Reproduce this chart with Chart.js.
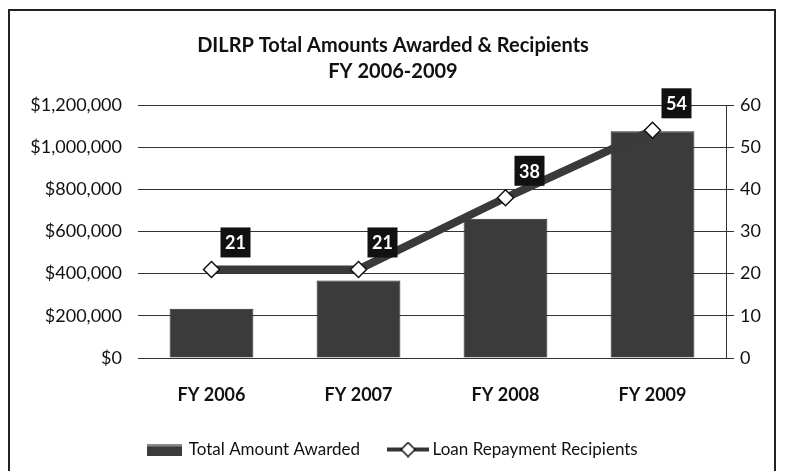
<!DOCTYPE html>
<html>
<head>
<meta charset="utf-8">
<script src="https://cdn.jsdelivr.net/npm/chart.js@4/dist/chart.umd.min.js"></script>
<style>
  html, body { margin: 0; padding: 0; background: #fff; }
  #wrap { position: relative; width: 786px; height: 471px; }
  #frame { position: absolute; left: 8px; top: 9px; width: 768px; height: 470px;
           border: 2px solid #222; border-bottom: none; box-sizing: border-box; }
  canvas { position: absolute; left: 0; top: 0; }
</style>
</head>
<body>
<div id="wrap">
  <div id="frame"></div>
  <canvas id="myChart" width="786" height="471"></canvas>
</div>
<script>
var years = ['FY 2006', 'FY 2007', 'FY 2008', 'FY 2009'];
var amountAwarded = [234000, 368000, 660000, 1076000];
var recipients = [21, 21, 38, 54];
var titleLines = ['DILRP Total Amounts Awarded & Recipients', 'FY 2006-2009'];

var fontName = 'Lato, "Open Sans", sans-serif';

// legend swatches
function barSwatch() {
    var c = document.createElement('canvas');
    c.width = 35; c.height = 12;
    var g = c.getContext('2d');
    g.fillStyle = '#3b3b3b';
    g.fillRect(0, 0, 35, 12);
    g.fillStyle = '#8a8a8a';
    g.fillRect(0, 0, 35, 3);
    return c;
}
function lineSwatch() {
    var c = document.createElement('canvas');
    c.width = 42; c.height = 16;
    var g = c.getContext('2d');
    g.fillStyle = '#333';
    g.fillRect(0, 6, 42, 4);
    g.beginPath();
    g.moveTo(21, 1); g.lineTo(28, 8); g.lineTo(21, 15); g.lineTo(14, 8); g.closePath();
    g.fillStyle = '#fff'; g.fill();
    g.lineWidth = 1.5; g.strokeStyle = '#111'; g.stroke();
    return c;
}

// black boxes with the recipient counts
var boxLabels = {
    id: 'boxLabels',
    afterDatasetsDraw: function (chart) {
        var meta = chart.getDatasetMeta(0);
        var ctx = chart.ctx;
        ctx.save();
        ctx.font = 'bold 18px ' + fontName;
        ctx.textAlign = 'center';
        ctx.textBaseline = 'middle';
        meta.data.forEach(function (pt, i) {
            var x = pt.x + 24, y = pt.y - 27;
            ctx.fillStyle = '#111';
            ctx.fillRect(x - 15, y - 15, 30, 30);
            ctx.fillStyle = '#fff';
            ctx.fillText(String(recipients[i]), x, y + 1);
        });
        ctx.restore();
    }
};

var ctx = document.getElementById('myChart').getContext('2d');

new Chart(ctx, {
    data: {
        labels: years,
        datasets: [{
            type: 'line',
            label: 'Loan Repayment Recipients',
            data: recipients,
            yAxisID: 'y2',
            borderColor: '#3a3a3a',
            borderWidth: 8,
            pointStyle: 'rectRot',
            pointRadius: 8,
            pointBackgroundColor: '#fff',
            pointBorderColor: '#111',
            pointBorderWidth: 1.5,
            tension: 0,
            order: 0
        }, {
            type: 'bar',
            label: 'Total Amount Awarded',
            data: amountAwarded,
            yAxisID: 'y',
            backgroundColor: '#3b3b3b',
            borderColor: '#2a2a2a',
            borderWidth: 1,
            categoryPercentage: 0.57,
            barPercentage: 1,
            order: 1
        }]
    },
    options: {
        responsive: false,
        animation: false,
        layout: { padding: { left: 0, right: 0, top: 0, bottom: 3 } },
        scales: {
            x: {
                grid: { display: false },
                border: { display: false },
                ticks: {
                    color: '#111',
                    padding: 18,
                    font: { family: fontName, size: 18, weight: 'bold' }
                },
                afterFit: function (scale) { scale.height = 51; }
            },
            y: {
                position: 'left',
                min: 0,
                max: 1200000,
                ticks: {
                    stepSize: 200000,
                    padding: 16,
                    color: '#111',
                    font: { family: fontName, size: 18 },
                    callback: function (v) { return '$' + v.toLocaleString('en-US'); }
                },
                grid: { color: '#333', lineWidth: 1, drawTicks: false },
                border: { display: false },
                afterFit: function (scale) { scale.width = 138; }
            },
            y2: {
                position: 'right',
                min: 0,
                max: 60,
                ticks: {
                    stepSize: 10,
                    padding: 6,
                    color: '#111',
                    font: { family: fontName, size: 18 }
                },
                grid: { drawOnChartArea: false, color: '#333', tickLength: 8 },
                border: { display: true, color: '#333', width: 1 },
                afterFit: function (scale) { scale.width = 60; }
            }
        },
        plugins: {
            title: {
                display: true,
                text: titleLines,
                color: '#111',
                font: { family: fontName, size: 20, weight: 'bold', lineHeight: 1.3 },
                padding: { top: 33, bottom: 20 }
            },
            legend: {
                position: 'bottom',
                reverse: true,
                labels: {
                    usePointStyle: true,
                    pointStyleWidth: 32,
                    padding: 32,
                    color: '#111',
                    font: { family: fontName, size: 17 },
                    generateLabels: function (chart) {
                        var items = Chart.defaults.plugins.legend.labels.generateLabels(chart);
                        items.forEach(function (it) {
                            it.pointStyle = it.datasetIndex === 1 ? barSwatch() : lineSwatch();
                        });
                        return items;
                    }
                }
            },
            tooltip: { enabled: false }
        }
    },
    plugins: [boxLabels]
});
</script>
</body>
</html>
